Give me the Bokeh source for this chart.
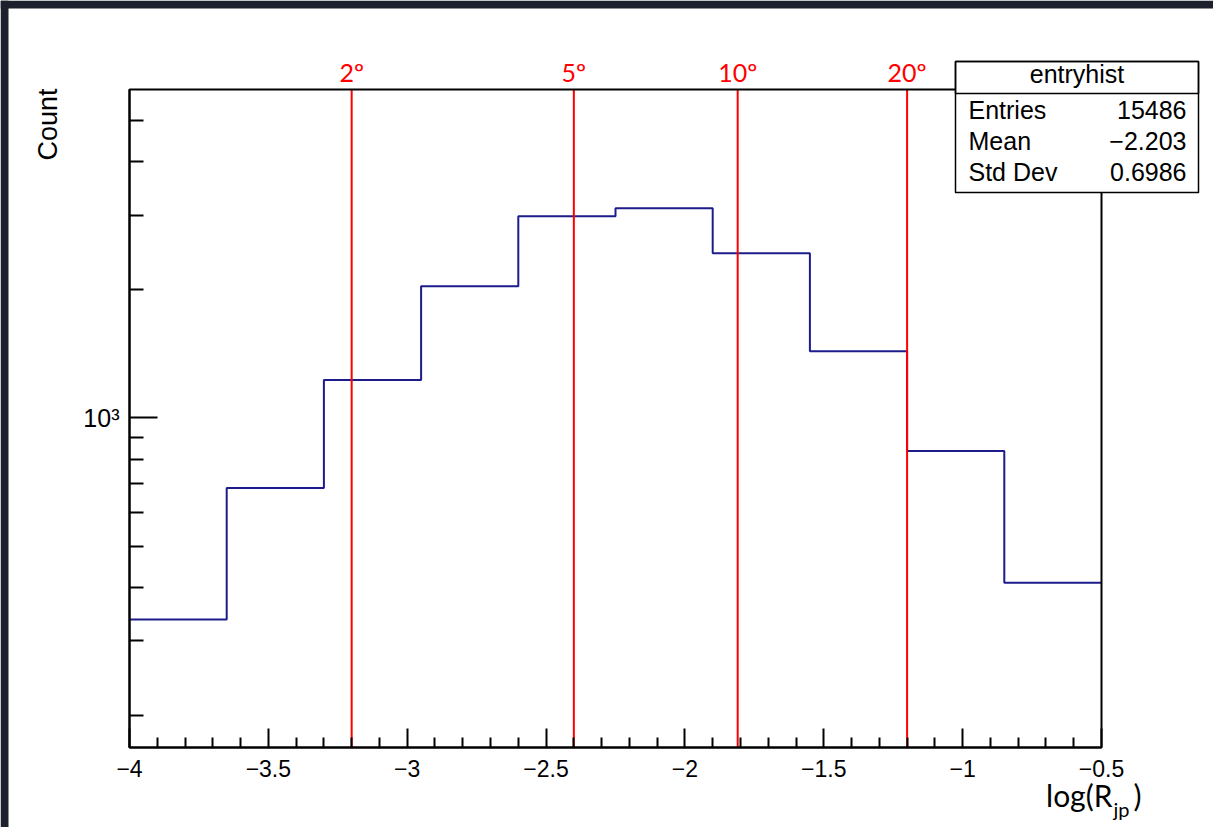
import math
from bokeh.plotting import figure
from bokeh.models import FixedTicker, Range1d, Label, BoxAnnotation, ColumnDataSource
from bokeh.embed import file_html
from bokeh.resources import INLINE

# ---------------- data ----------------
bin_edges = [-4.0, -3.65, -3.3, -2.95, -2.6, -2.25, -1.9, -1.55, -1.2, -0.85, -0.5]
counts = [336, 685, 1228, 2041, 2979, 3111, 2440, 1436, 836, 410]

angle_positions = [-3.2, -2.4, -1.81, -1.2]
angle_labels = ["2º", "5º", "10º", "20º"]

x_ticks = [-4.0, -3.5, -3.0, -2.5, -2.0, -1.5, -1.0, -0.5]
x_tick_labels = ["−4", "−3.5", "−3", "−2.5", "−2", "−1.5", "−1", "−0.5"]
y_major_ticks = [1000]
y_major_labels = ["10³"]
y_minor_ticks = [200, 300, 400, 500, 600, 700, 800, 900, 2000, 3000, 4000, 5000]

hist_name = "entryhist"
stats_names = ["Entries", "Mean", "Std Dev"]
stats_values = ["15486", "−2.203", "0.6986"]

x_title_main, x_title_sub, x_title_end = "log(R", "jp", ")"
y_title = "Count"

X_DATA = (-4.0, -0.5)        # axis extent of the histogram frame
Y_DATA = (168.0, 5920.0)

# ---------------- layout (canvas pixels) ----------------
W, H = 1213, 827
FRAME_L, FRAME_R, FRAME_T, FRAME_B = 129, 1101, 89, 747
NAVY = "#1c1c8a"
DARK = "#1c212d"
SANS = "Liberation Sans"
BASE_K = 0.45   # renderer places the "alphabetic" anchor ~0.45em above the baseline

ppx = (FRAME_R - FRAME_L) / (X_DATA[1] - X_DATA[0])
x_start = X_DATA[0] - FRAME_L / ppx
x_end = X_DATA[1] + (W - FRAME_R) / ppx
lo, hi = math.log10(Y_DATA[0]), math.log10(Y_DATA[1])
ppd = (FRAME_B - FRAME_T) / (hi - lo)
y_start = 10 ** (lo - (H - FRAME_B) / ppd)
y_end = 10 ** (hi + FRAME_T / ppd)


def xd(px):
    return x_start + px / ppx


def yd(py):
    return 10 ** (math.log10(y_end) - py / ppd)


def text_label(px, baseline_py, text, size, font=SANS, align="left", color="black", **kw):
    return Label(x=xd(px), y=yd(baseline_py - BASE_K * size), text=text, text_align=align,
                 text_baseline="alphabetic", text_font=font, text_font_size=f"{size}px",
                 text_color=color, **kw)


p = figure(
    width=W, height=H, title=None,
    x_range=Range1d(x_start, x_end), y_range=Range1d(y_start, y_end),
    y_axis_type="log",
    output_backend="svg", toolbar_location=None,
    min_border=0,
)
p.background_fill_color = "white"
p.border_fill_color = "white"
p.outline_line_color = None
p.grid.visible = False

# dark page strips (top / left)
p.add_layout(BoxAnnotation(right=xd(8), fill_color=DARK, fill_alpha=1.0, line_color=None))
p.add_layout(BoxAnnotation(bottom=yd(8), fill_color=DARK, fill_alpha=1.0, line_color=None))

# x axis
xminor = [t + k * 0.1 for t in x_ticks[:-1] for k in range(1, 5)]
p.xaxis.fixed_location = Y_DATA[0]
p.xaxis.bounds = X_DATA
p.xaxis.ticker = FixedTicker(ticks=x_ticks, minor_ticks=xminor)
p.xaxis.major_label_overrides = {t: l for t, l in zip(x_ticks, x_tick_labels)}
p.xaxis.major_tick_in = 19
p.xaxis.major_tick_out = 0
p.xaxis.minor_tick_in = 10
p.xaxis.minor_tick_out = 0
p.xaxis.major_label_standoff = 12
p.xaxis.major_label_text_font_size = "23px"

# y axis
p.yaxis.fixed_location = X_DATA[0]
p.yaxis.bounds = Y_DATA
p.yaxis.ticker = FixedTicker(ticks=y_major_ticks, minor_ticks=y_minor_ticks)
p.yaxis.major_label_overrides = {t: l for t, l in zip(y_major_ticks, y_major_labels)}
p.yaxis.major_tick_in = 28
p.yaxis.major_tick_out = 0
p.yaxis.minor_tick_in = 14
p.yaxis.minor_tick_out = 0
p.yaxis.major_label_standoff = 10
p.yaxis.major_label_text_font_size = "25px"

for ax in (p.xaxis, p.yaxis):
    ax.axis_line_width = 2
    ax.axis_line_color = "black"
    ax.major_tick_line_width = 2
    ax.minor_tick_line_width = 2
    ax.major_tick_line_color = "black"
    ax.minor_tick_line_color = "black"
    ax.major_label_text_font = SANS
    ax.major_label_text_color = "black"
    ax.axis_label = None

# histogram
p.step(x=bin_edges, y=counts + [counts[-1]], mode="after", line_color=NAVY, line_width=2)

# frame box (top and right borders; left/bottom coincide with the axes)
p.add_layout(BoxAnnotation(left=X_DATA[0], right=X_DATA[1], bottom=Y_DATA[0], top=Y_DATA[1],
                           fill_alpha=0.0, line_color="black", line_width=2, line_alpha=1.0))

# angle markers
lines = ColumnDataSource(dict(x=angle_positions, y0=[Y_DATA[0]] * len(angle_positions),
                              y1=[Y_DATA[1]] * len(angle_positions)))
p.segment(x0="x", y0="y0", x1="x", y1="y1", source=lines, line_color="red", line_width=2)
for pos, lab in zip(angle_positions, angle_labels):
    p.add_layout(Label(x=pos, y=yd(83 - BASE_K * 25), text=lab, text_align="center",
                       text_baseline="alphabetic", text_color="red",
                       text_font="Lato", text_font_size="25px"))

# axis titles
p.add_layout(Label(x=xd(60 - BASE_K * 27), y=yd(88), text=y_title, angle=math.pi / 2,
                   text_align="right", text_baseline="alphabetic", text_font=SANS,
                   text_font_size="27px", text_color="black"))
p.add_layout(text_label(1112, 808, x_title_main, 30, font="Lato", align="right"))
p.add_layout(text_label(1113, 817, x_title_sub, 20, font="Lato", align="left"))
p.add_layout(text_label(1133, 808, x_title_end, 30, font="Lato", align="left"))

# stats box
BOX_L, BOX_R, BOX_T, BOX_DIV, BOX_B = 955, 1198, 61, 93, 192
p.add_layout(BoxAnnotation(left=xd(BOX_L), right=xd(BOX_R), top=yd(BOX_T), bottom=yd(BOX_B),
                           fill_color="white", fill_alpha=1.0, line_color="black",
                           line_width=1.5, line_alpha=1.0, level="overlay"))
p.add_layout(BoxAnnotation(left=xd(BOX_L), right=xd(BOX_R), top=yd(BOX_T), bottom=yd(BOX_DIV),
                           fill_alpha=0.0, line_color="black", line_width=1.5, line_alpha=1.0,
                           level="overlay"))
p.add_layout(text_label((BOX_L + BOX_R) / 2, 85, hist_name, 25, align="center", level="overlay"))
for i, (nm, val) in enumerate(zip(stats_names, stats_values)):
    base = 121 + i * 31
    p.add_layout(text_label(968, base, nm, 25, align="left", level="overlay"))
    p.add_layout(text_label(1186, base, val, 25, align="right", level="overlay"))

open("out.html", "w").write(file_html(p, INLINE, title="entryhist"))
